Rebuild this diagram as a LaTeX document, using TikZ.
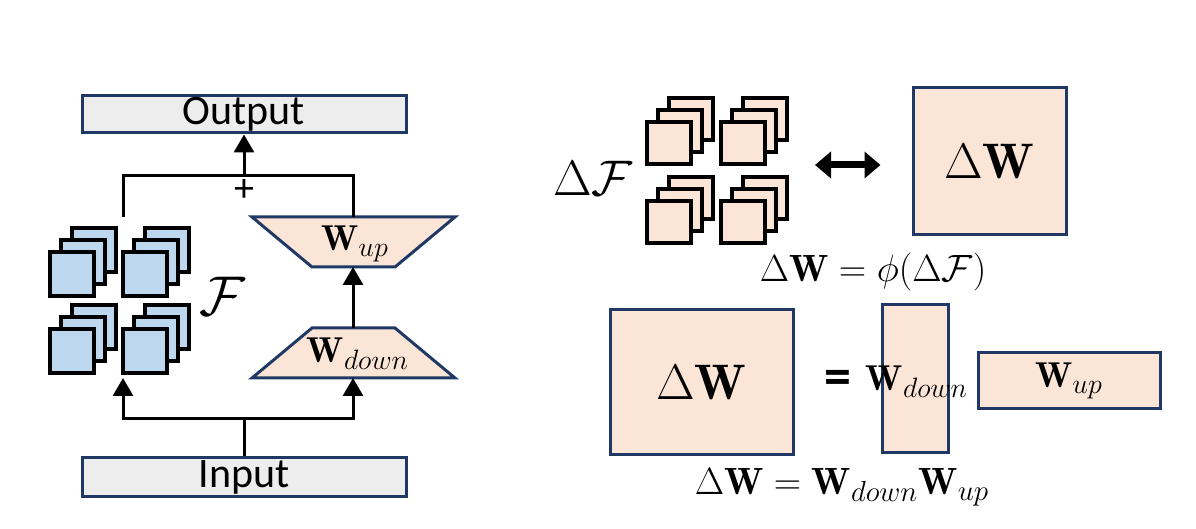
\RequirePackage{fix-cm}
\documentclass[tikz,border=0pt]{standalone}
\usepackage{amsmath,amssymb}
\usepackage{fontspec}
\newfontfamily\labelfont{Carlito}
\usepackage{tikz}
\usetikzlibrary{
    arrows.meta,
    calc
}

\definecolor{navy}{HTML}{203864}
\definecolor{boxgray}{HTML}{EDEDED}
\definecolor{fblue}{HTML}{BDD7EE}
\definecolor{peach}{HTML}{FBE5D6}

% larger subscripts, as in the figure
\DeclareMathSizes{18}{18}{14}{10}
\DeclareMathSizes{19}{19}{14.5}{10}

\begin{document}
\begin{tikzpicture}[x=0.5pt,y=-0.5pt,
    wire/.style={line width=1.5pt},
    conn/.style={wire,-{Triangle[length=9pt,width=10pt]}},
    iobox/.style={draw=navy,line width=1.5pt,fill=boxgray,minimum width=162pt,
        minimum height=18.5pt,inner sep=0pt,font=\labelfont\fontsize{21}{24}\selectfont},
    matbox/.style={draw=navy,line width=1.5pt,fill=peach,inner sep=0pt},
    fmap/.style={draw=black,line width=1.7pt},
    trap/.style={draw=navy,line width=1.5pt,fill=peach}]

\useasboundingbox (0,0) rectangle (1196,529);

% Input / Output
\node[iobox] (output) at (244,114.5) {Output};
\node[iobox,minimum height=19.5pt] (input) at (244,477.5) {Input};

% Feature maps F
\foreach \x/\y in {50/252,123/252,50/329,123/329}{
  \foreach \k in {2,1,0}{
    \draw[fmap,fill=fblue] (\x+11*\k,\y-12*\k) rectangle ++(44,44);
  }
}
\node (flabel) at (222,296) {\fontsize{28}{32}\selectfont$\mathcal{F}$};
\coordinate (fmap-out) at (123,217);
\coordinate (fmap-in) at (123,378);

% W_up and W_down
\draw[trap] (252,217) -- (455,217) -- (395,267) -- (312,267) -- cycle;
\node (wup) at (355,244) {\fontsize{18}{22}\selectfont$\mathbf{W}_{up}$};
\draw[trap] (312,328) -- (395,328) -- (455,378) -- (252,378) -- cycle;
\node (wdown) at (358,354) {\fontsize{18}{22}\selectfont$\mathbf{W}_{down}$};
\coordinate (wup-top) at (353,217);
\coordinate (wup-bot) at (353,267);
\coordinate (wdown-top) at (353,328);
\coordinate (wdown-bot) at (353,378);

% Connections
\coordinate (sum) at (244,176);
\coordinate (split) at (244,419);
\draw[wire] (fmap-out) |- (sum) -| (wup-top);
\draw[conn] (sum) -- (output);
\node (plus) at (244,191) {\labelfont\fontsize{20}{20}\selectfont +};
\draw[conn] (wdown-top) -- (wup-bot);
\draw[wire] (input) -- (split);
\draw[conn] (split) -| (fmap-in);
\draw[conn] (split) -| (wdown-bot);

% Delta F <-> Delta W
\node (dflabel) at (593,178) {\fontsize{25}{30}\selectfont$\Delta\mathcal{F}$};
\foreach \x/\y in {647/122,721/122,647/201,721/201}{
  \foreach \k in {2,1,0}{
    \draw[fmap,fill=peach] (\x+11*\k,\y-12*\k) rectangle ++(44,42);
  }
}
\coordinate (dfmap-e) at (801,165);
\node[matbox,minimum width=76.5pt,minimum height=73.5pt] (dw1) at (989.5,161.5)
    {\fontsize{25}{30}\selectfont$\Delta\mathbf{W}$};
\draw[line width=3.5pt,{Triangle[length=8pt,width=13pt]}-{Triangle[length=8pt,width=13pt]},
    shorten <=7pt,shorten >=15.5pt] (dfmap-e) -- (dw1.west |- dfmap-e);
\node (eq1) at (873,272) {\fontsize{19}{23}\selectfont$\Delta\mathbf{W} = \phi(\Delta\mathcal{F})$};

% Low-rank decomposition
\node[matbox,minimum width=91.5pt,minimum height=72.5pt] (dw2) at (701.5,382.5)
    {\fontsize{25}{30}\selectfont$\Delta\mathbf{W}$};
\node (eqsign) at (838,382) {\labelfont\fontsize{27}{30}\selectfont\bfseries =};
\node[matbox,minimum width=33pt,minimum height=74pt] (wdownmat) at (915,379) {};
\node (wdownlabel) at (917,382) {\fontsize{18}{22}\selectfont$\mathbf{W}_{down}$};
\node[matbox,minimum width=91pt,minimum height=28pt] (wupmat) at (1069,381)
    {\fontsize{18}{22}\selectfont$\mathbf{W}_{up}$};
\node (eq2) at (842,487) {\fontsize{19}{23}\selectfont$\Delta\mathbf{W} = \mathbf{W}_{down}\mathbf{W}_{up}$};

\end{tikzpicture}
\end{document}
